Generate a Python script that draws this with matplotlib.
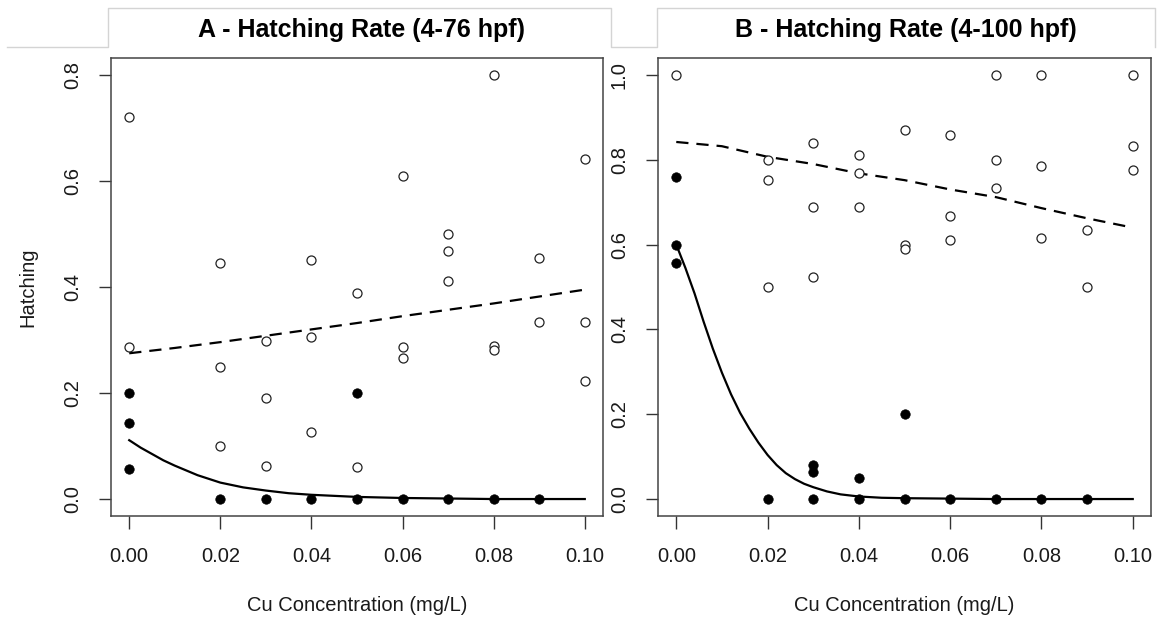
import numpy as np
import matplotlib
matplotlib.use("Agg")
import matplotlib.pyplot as plt
from matplotlib.lines import Line2D

plt.rcParams['font.family'] = ['Liberation Sans', 'DejaVu Sans']

# ---- panel A : 4-76 hpf ----
a_open_x = [0.00, 0.00, 0.02, 0.02, 0.02, 0.03, 0.03, 0.03, 0.04, 0.04, 0.04,
            0.05, 0.05, 0.06, 0.06, 0.06, 0.07, 0.07, 0.07, 0.08, 0.08, 0.08,
            0.09, 0.09, 0.10, 0.10, 0.10]
a_open_y = [0.720, 0.287, 0.445, 0.249, 0.100, 0.299, 0.191, 0.063, 0.450, 0.306, 0.126,
            0.389, 0.061, 0.610, 0.287, 0.267, 0.500, 0.467, 0.412, 0.800, 0.288, 0.281,
            0.454, 0.334, 0.642, 0.334, 0.222]
a_fill_x = [0.00, 0.00, 0.00, 0.02, 0.03, 0.04, 0.05, 0.05, 0.06, 0.07, 0.08, 0.09]
a_fill_y = [0.200, 0.144, 0.056, 0.0, 0.0, 0.0, 0.200, 0.0, 0.0, 0.0, 0.0, 0.0]

a_dash_x = [0.00, 0.01, 0.02, 0.03, 0.04, 0.05, 0.06, 0.07, 0.08, 0.09, 0.10]
a_dash_y = [0.275, 0.285, 0.296, 0.308, 0.320, 0.332, 0.345, 0.357, 0.369, 0.382, 0.395]
a_solid_x = [0.000, 0.0025, 0.005, 0.0075, 0.010, 0.0125, 0.015, 0.0175, 0.020, 0.025,
             0.030, 0.035, 0.040, 0.050, 0.060, 0.070, 0.080, 0.090, 0.100]
a_solid_y = [0.111, 0.097, 0.085, 0.073, 0.063, 0.054, 0.045, 0.038, 0.031, 0.022,
             0.016, 0.011, 0.008, 0.004, 0.002, 0.001, 0.0, 0.0, 0.0]

# ---- panel B : 4-100 hpf ----
b_open_x = [0.00, 0.02, 0.02, 0.02, 0.03, 0.03, 0.03, 0.04, 0.04, 0.04,
            0.05, 0.05, 0.05, 0.06, 0.06, 0.06, 0.07, 0.07, 0.07, 0.08, 0.08, 0.08,
            0.09, 0.09, 0.10, 0.10, 0.10]
b_open_y = [1.000, 0.800, 0.752, 0.500, 0.839, 0.689, 0.524, 0.811, 0.770, 0.689,
            0.870, 0.600, 0.589, 0.858, 0.667, 0.610, 1.000, 0.799, 0.733, 1.000, 0.786, 0.616,
            0.634, 0.500, 1.000, 0.833, 0.777]
b_fill_x = [0.00, 0.00, 0.00, 0.02, 0.03, 0.03, 0.03, 0.04, 0.04, 0.05, 0.05,
            0.06, 0.07, 0.08, 0.09]
b_fill_y = [0.760, 0.600, 0.556, 0.0, 0.080, 0.063, 0.0, 0.049, 0.0, 0.200, 0.0,
            0.0, 0.0, 0.0, 0.0]

b_dash_x = [0.00, 0.01, 0.02, 0.03, 0.04, 0.05, 0.06, 0.07, 0.08, 0.09, 0.10]
b_dash_y = [0.842, 0.832, 0.807, 0.790, 0.768, 0.752, 0.730, 0.712, 0.686, 0.662, 0.640]
b_solid_x = [0.000, 0.002, 0.004, 0.006, 0.008, 0.010, 0.012, 0.014, 0.016, 0.018,
             0.020, 0.022, 0.024, 0.026, 0.028, 0.030, 0.033, 0.036, 0.040, 0.045,
             0.050, 0.060, 0.070, 0.080, 0.090, 0.100]
b_solid_y = [0.600, 0.545, 0.485, 0.418, 0.355, 0.298, 0.247, 0.203, 0.166, 0.133,
             0.104, 0.080, 0.061, 0.047, 0.036, 0.028, 0.018, 0.011, 0.006, 0.003,
             0.002, 0.001, 0.0, 0.0, 0.0, 0.0]

titles = ['A - Hatching Rate (4-76 hpf)', 'B - Hatching Rate (4-100 hpf)']
x_ticks = [0.00, 0.02, 0.04, 0.06, 0.08, 0.10]
a_yticks = [0.0, 0.2, 0.4, 0.6, 0.8]
b_yticks = [0.0, 0.2, 0.4, 0.6, 0.8, 1.0]

W, H = 1160, 621
fig = plt.figure(figsize=(W / 100, H / 100), dpi=100)
fig.patch.set_facecolor('white')


def fx(px):
    return px / W


def fy(py):
    return 1 - py / H


axA = fig.add_axes([fx(111), fy(516), fx(603 - 111), (516 - 58) / H])
axB = fig.add_axes([fx(658), fy(516), fx(1151 - 658), (516 - 58) / H])

txt = '#1a1a1a'
panels = [
    (axA, a_open_x, a_open_y, a_fill_x, a_fill_y, a_dash_x, a_dash_y, a_solid_x, a_solid_y,
     a_yticks, (-0.032, 0.832)),
    (axB, b_open_x, b_open_y, b_fill_x, b_fill_y, b_dash_x, b_dash_y, b_solid_x, b_solid_y,
     b_yticks, (-0.04, 1.04)),
]

for ax, ox, oy, fx_, fy_, dx, dy, sx, sy, yt, ylim in panels:
    ax.plot(dx, dy, color='black', lw=1.6, ls=(0, (5.5, 3.6)))
    ax.plot(sx, sy, color='black', lw=1.6)
    ax.plot(ox, oy, 'o', ms=6.5, mfc='white', mec='#222222', mew=0.9, ls='none')
    ax.plot(fx_, fy_, 'o', ms=6.8, mfc='black', mec='black', mew=0.5, ls='none')
    ax.set_xlim(-0.004, 0.104)
    ax.set_ylim(*ylim)
    ax.set_xticks(x_ticks)
    ax.set_xticklabels(['%.2f' % v for v in x_ticks])
    ax.set_yticks(yt)
    ax.set_yticklabels(['%.1f' % v for v in yt], rotation=90, va='center')
    ax.tick_params(axis='both', direction='out', length=9, width=1, colors='#333333',
                   labelcolor=txt, labelsize=14.5)
    ax.tick_params(axis='x', pad=13)
    ax.tick_params(axis='y', pad=12)
    for s in ax.spines.values():
        s.set_color('#444444')
        s.set_linewidth(1.1)
    ax.set_xlabel('Cu Concentration (mg/L)', fontsize=14.5, color=txt, labelpad=22)

axA.set_ylabel('Hatching', fontsize=14.5, color=txt, labelpad=18)

# header tabs
hx = [7, 108, 108, 611, 611, 657, 657, 1155, 1155]
hy = [47, 47, 8, 8, 47, 47, 8, 8, 47]
fig.add_artist(Line2D([fx(v) for v in hx], [fy(v) for v in hy], color='#d4d4d4', lw=1.0,
                      transform=fig.transFigure))

fig.text(fx(362), fy(30), titles[0], ha='center', va='center', fontsize=18,
         fontweight='bold', color='black')
fig.text(fx(906), fy(30), titles[1], ha='center', va='center', fontsize=18,
         fontweight='bold', color='black')

fig.savefig('out.png', dpi=100, facecolor='white')
